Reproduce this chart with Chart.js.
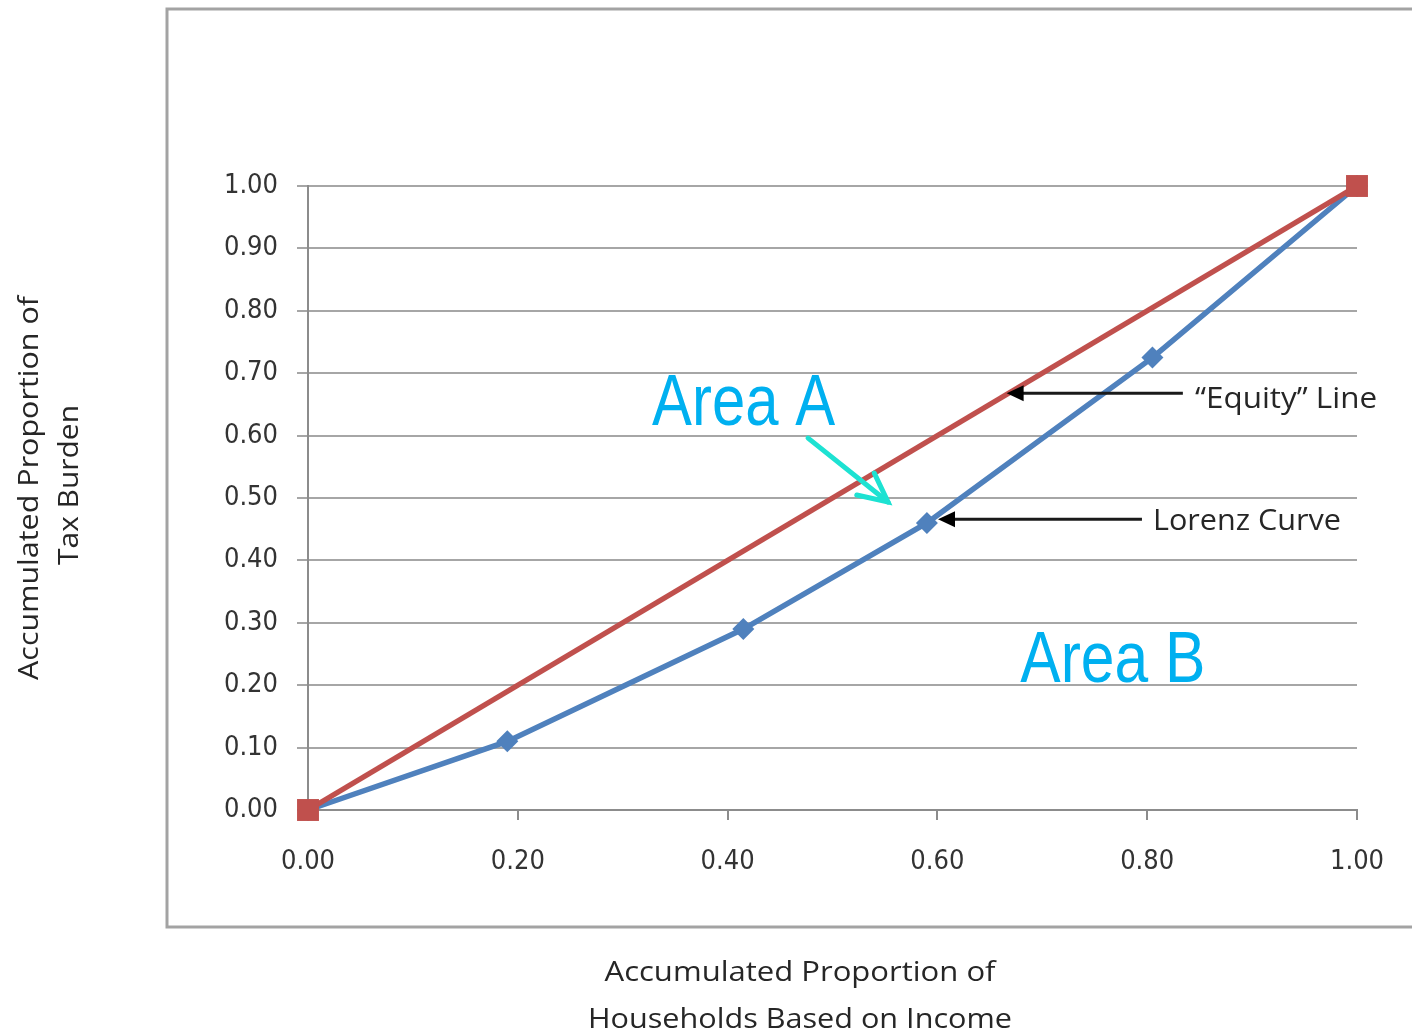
<!DOCTYPE html>
<html><head><meta charset="utf-8">
<script src="https://cdn.jsdelivr.net/npm/chart.js@4/dist/chart.umd.min.js"></script>
<style>html,body{margin:0;padding:0;background:#fff}#wrap{width:1412px;height:1036px}</style>
</head><body><div id="wrap"><canvas id="c" width="1412" height="1036"></canvas></div>
<script>
// ---- data ----
const lorenzX = [0, 0.19, 0.415, 0.59, 0.805, 1.00];
const lorenzY = [0, 0.11, 0.29, 0.46, 0.725, 1.00];
const equityX = [0, 1];
const equityY = [0, 1];
const yTicks = [0, 0.1, 0.2, 0.3, 0.4, 0.5, 0.6, 0.7, 0.8, 0.9, 1.0];
const xTicks = [0, 0.2, 0.4, 0.6, 0.8, 1.0];
const xTitle = ['Accumulated Proportion of', 'Households Based on Income'];
const yTitle = ['Accumulated Proportion of', 'Tax Burden'];
const equityLabel = '\u201CEquity\u201D Line';
const lorenzLabel = 'Lorenz Curve';
const areaALabel = 'Area A';
const areaBLabel = 'Area B';

const pts = (xs, ys) => xs.map((x, i) => ({x: x, y: ys[i]}));

function fitText(ctx, text, x, y, width, font, color) {
  ctx.save();
  ctx.font = font; ctx.fillStyle = color;
  ctx.textBaseline = 'alphabetic'; ctx.textAlign = 'left';
  const w = ctx.measureText(text).width;
  ctx.translate(x, y); ctx.scale(width / w, 1);
  ctx.fillText(text, 0, 0);
  ctx.restore();
}
function fitCenter(ctx, text, cx, cy, width, font, color) {
  ctx.save();
  ctx.font = font; ctx.fillStyle = color;
  ctx.textBaseline = 'middle'; ctx.textAlign = 'center';
  const w = ctx.measureText(text).width;
  ctx.translate(cx, cy); ctx.scale(width / w, 1);
  ctx.fillText(text, 0, 0);
  ctx.restore();
}
function blackArrow(ctx, x1, x2, y) {
  ctx.save();
  ctx.strokeStyle = '#1a1a1a'; ctx.fillStyle = '#000'; ctx.lineWidth = 3;
  ctx.beginPath(); ctx.moveTo(x2, y); ctx.lineTo(x1 + 12, y); ctx.stroke();
  ctx.beginPath(); ctx.moveTo(x1, y); ctx.lineTo(x1 + 17, y - 8); ctx.lineTo(x1 + 17, y + 8); ctx.closePath(); ctx.fill();
  ctx.restore();
}

const decor = {
  id: 'decor',
  beforeDraw(chart) {
    const ctx = chart.ctx;
    ctx.save();
    ctx.strokeStyle = '#a3a3a3'; ctx.lineWidth = 3;
    ctx.strokeRect(167, 9, 1300, 918);
    ctx.restore();
    // axis titles
    const f = '28px "Open Sans"';
    const col = '#262626';
    fitCenter(ctx, xTitle[0], 800, 973, 391, f, col);
    fitCenter(ctx, xTitle[1], 800, 1020, 424, f, col);
    ctx.save(); ctx.translate(30, 488); ctx.rotate(-Math.PI / 2);
    fitCenter(ctx, yTitle[0], 0, 0, 384, f, col);
    ctx.restore();
    ctx.save(); ctx.translate(70, 485); ctx.rotate(-Math.PI / 2);
    fitCenter(ctx, yTitle[1], 0, 0, 160, f, col);
    ctx.restore();
  },
  afterDatasetsDraw(chart) {
    const ctx = chart.ctx, sx = chart.scales.x, sy = chart.scales.y;
    const X = v => sx.getPixelForValue(v), Y = v => sy.getPixelForValue(v);
    // pointer arrows + labels
    blackArrow(ctx, X(0.666), X(0.834), Y(0.668));
    fitText(ctx, equityLabel, X(0.8456), Y(0.644), 182, '30px "Open Sans"', '#262626');
    blackArrow(ctx, X(0.6006), X(0.795), Y(0.466));
    fitText(ctx, lorenzLabel, X(0.8055), Y(0.449), 188, '30px "Open Sans"', '#262626');
    // Area labels
    fitText(ctx, areaALabel, X(0.328), Y(0.617), 183, '72px "Liberation Sans"', '#00b0f0');
    fitText(ctx, areaBLabel, X(0.679), Y(0.205), 185, '72px "Liberation Sans"', '#00b0f0');
    // teal arrow
    const ax = X(0.4767), ay = Y(0.596), bx = X(0.5529), by = Y(0.4936);
    ctx.save();
    ctx.strokeStyle = '#1de2d2'; ctx.lineWidth = 5; ctx.lineCap = 'round';
    ctx.beginPath(); ctx.moveTo(ax, ay); ctx.lineTo(bx, by); ctx.stroke();
    const ang = Math.atan2(ay - by, ax - bx);
    const L = 32, sp = 26 * Math.PI / 180;
    ctx.beginPath();
    ctx.moveTo(bx + L * Math.cos(ang + sp), by + L * Math.sin(ang + sp));
    ctx.lineTo(bx, by);
    ctx.lineTo(bx + L * Math.cos(ang - sp), by + L * Math.sin(ang - sp));
    ctx.stroke();
    ctx.restore();
  }
};

const tickFont = {family: '"DejaVu Sans Condensed", "DejaVu Sans"', size: 27};
const tickColor = '#333333';

new Chart(document.getElementById('c'), {
  type: 'scatter',
  data: {
    datasets: [
      {
        label: 'Equity Line',
        data: pts(equityX, equityY),
        showLine: true, clip: false,
        borderColor: '#c0504d', backgroundColor: '#c0504d',
        borderWidth: 5.5, tension: 0,
        pointStyle: 'rect', pointRadius: 15.5, pointBorderWidth: 0
      },
      {
        label: 'Lorenz Curve',
        data: pts(lorenzX, lorenzY),
        showLine: true, clip: false,
        borderColor: '#4f81bd', backgroundColor: '#4f81bd',
        borderWidth: 5.5, tension: 0,
        pointStyle: 'rectRot', pointRadius: 11, pointBorderWidth: 0
      }
    ]
  },
  options: {
    responsive: false,
    animation: false,
    layout: {padding: {left: 0, top: 186, right: 55, bottom: 0}},
    plugins: {legend: {display: false}, tooltip: {enabled: false}, title: {display: false}},
    scales: {
      x: {
        type: 'linear', min: 0, max: 1,
        afterBuildTicks: s => { s.ticks = xTicks.map(v => ({value: v})); },
        afterFit: s => { s.height = 226; },
        ticks: {callback: v => Number(v).toFixed(2), font: tickFont, color: tickColor, padding: 26, maxRotation: 0},
        grid: {drawOnChartArea: false, drawTicks: true, tickLength: 10, color: '#8c8c8c', lineWidth: 2},
        border: {display: true, color: '#8c8c8c', width: 2}
      },
      y: {
        type: 'linear', min: 0, max: 1,
        afterBuildTicks: s => { s.ticks = yTicks.map(v => ({value: v})); },
        afterFit: s => { s.width = 308; },
        ticks: {callback: v => Number(v).toFixed(2), font: tickFont, color: tickColor, padding: 19},
        grid: {drawOnChartArea: true, drawTicks: true, tickLength: 11, color: '#a6a6a6', lineWidth: 2},
        border: {display: true, color: '#8c8c8c', width: 2}
      }
    }
  },
  plugins: [decor]
});
</script>
</body></html>
